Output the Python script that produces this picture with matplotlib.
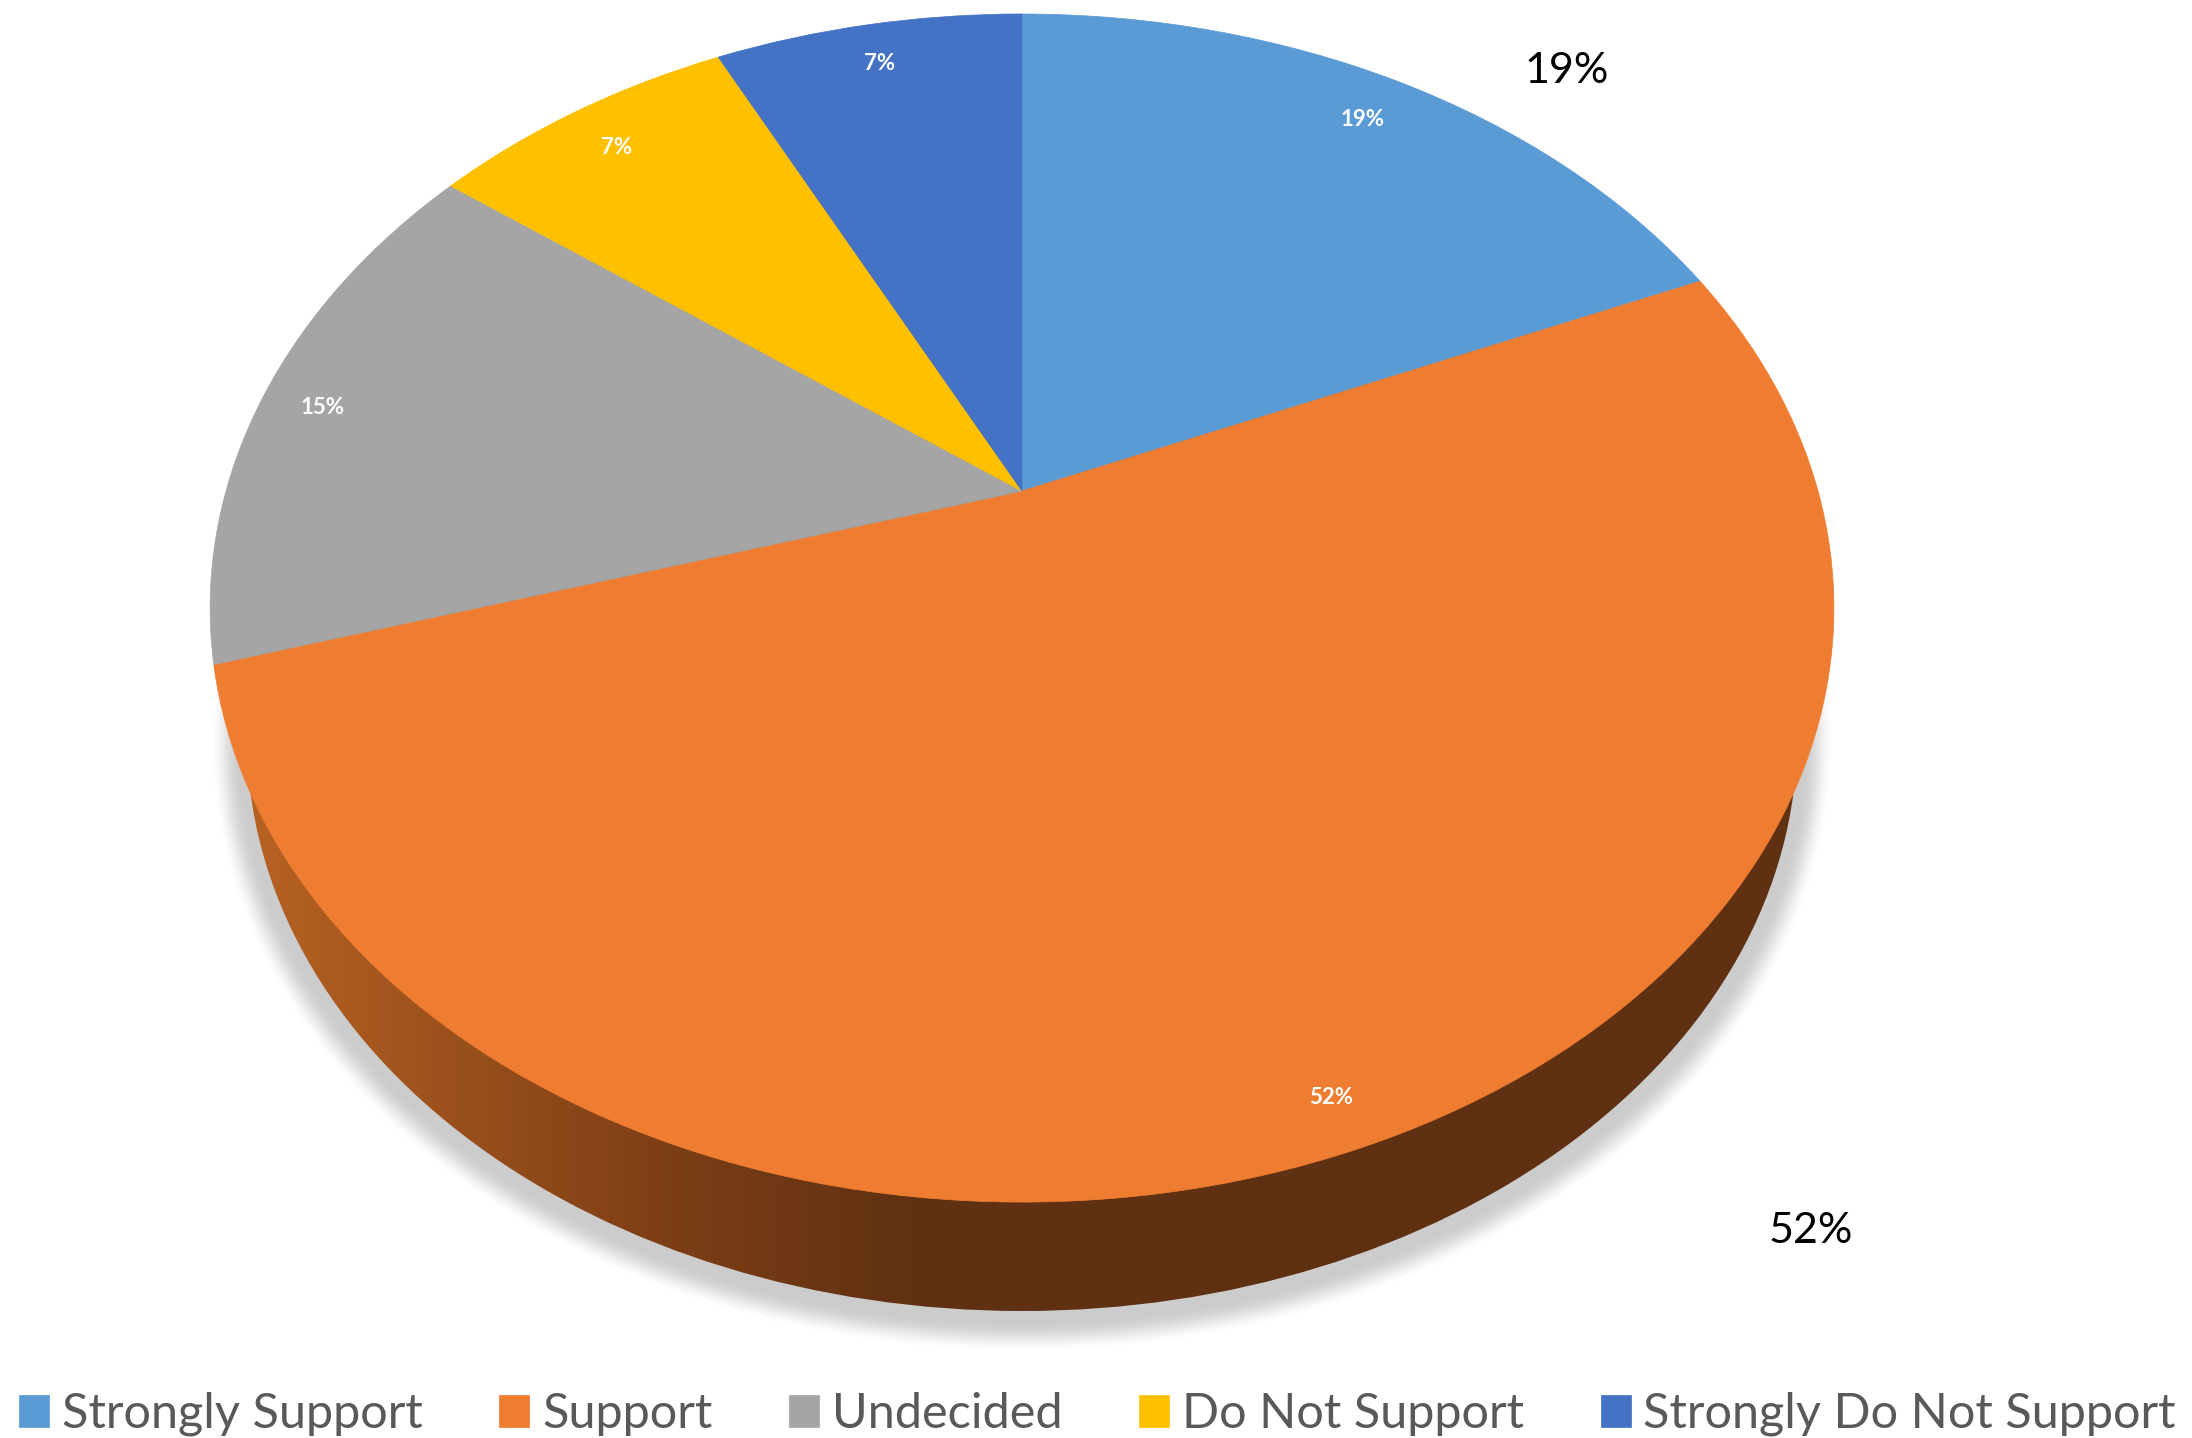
import numpy as np
import matplotlib
matplotlib.use("Agg")
import matplotlib.pyplot as plt
from matplotlib.colors import LinearSegmentedColormap
from matplotlib.patches import Ellipse
from matplotlib.transforms import Transform

# data
categories = ["Strongly Support", "Support", "Undecided", "Do Not Support", "Strongly Do Not Support"]
responses = [5, 14, 4, 2, 2]
colors = ["#5B9BD5", "#EF7D31", "#A5A5A5", "#FFC000", "#4472C4"]
outer_labels = ["19%", "52%"]

W, H = 2192, 1438

plt.rcParams["font.family"] = ["Lato", "DejaVu Sans"]


# pie is seen in perspective, so the centre is not the middle of the ellipse
class TiltedPie(Transform):
    input_dims = 2
    output_dims = 2

    def __init__(self, cx, cy, a, b, k):
        super().__init__()
        self.cx, self.cy, self.a, self.b, self.k = cx, cy, a, b, k

    def transform_non_affine(self, values):
        values = np.asarray(values, dtype=float)
        w = 1 + self.k * values[:, 1]
        return np.column_stack([self.cx + self.a * values[:, 0] / w,
                                self.cy - self.b * values[:, 1] / w])


fig = plt.figure(figsize=(W / 100, H / 100), dpi=100)
ax = fig.add_axes([0, 0, 1, 1])

wedges, _ = ax.pie(responses, colors=colors, startangle=90, counterclock=False)
ax.set_aspect("auto")
ax.set_xlim(0, W)
ax.set_ylim(H, 0)
ax.axis("off")

tilt = TiltedPie(1022, 491, 796, 571, 0.197)
for w, c in zip(wedges, colors):
    w.set_transform(tilt + ax.transData)
    w.set_edgecolor(c)
    w.set_linewidth(0.5)
    w.set_zorder(5)

# soft shadow under the pie
side_cx, side_cy, side_a, side_b = 1022, 738, 775, 573
yy, xx = np.mgrid[0:H, 0:W] + 0.5
dx = xx - side_cx
dy = yy - (side_cy + 5)
f = np.sqrt((dx / side_a) ** 2 + (dy / side_b) ** 2)
grad = np.sqrt((dx / side_a ** 2) ** 2 + (dy / side_b ** 2) ** 2) / np.maximum(f, 1e-6)
dist = (f - 1) / np.maximum(grad, 1e-9)
s = np.clip((37 - dist) / 30, 0, 1)
shadow = np.zeros((H, W, 4))
shadow[..., 3] = 0.2 * s * s * (3 - 2 * s)
ax.imshow(shadow, extent=(0, W, H, 0), aspect="auto", zorder=1, interpolation="nearest")

# side of the pie, lighter to the left
side_cmap = LinearSegmentedColormap.from_list(
    "side", [(0, "#B86323"), (0.256, "#7F3F16"), (0.423, "#5F3112"), (1, "#5F3112")])
side_img = ax.imshow(np.linspace(0, 1, 512)[None, :], extent=(240, 1840, 1330, 150),
                     cmap=side_cmap, aspect="auto", zorder=2)
side_clip = Ellipse((side_cx, side_cy), 2 * side_a, 2 * side_b, transform=ax.transData)
side_img.set_clip_path(side_clip)

ax.set_xlim(0, W)
ax.set_ylim(H, 0)

# labels
total = sum(responses)
pcts = [f"{v / total * 100:.0f}%" for v in responses]
inner_pos = [(1363, 119), (1331, 1098), (323, 407), (617, 147), (880, 63)]
for p, (x, y) in zip(pcts, inner_pos):
    ax.text(x, y, p, color="white", fontsize=16, fontweight="bold",
            ha="center", va="center", zorder=6)
ax.text(1567, 71, outer_labels[0], color="black", fontsize=31, ha="center", va="center", zorder=6)
ax.text(1811, 1231, outer_labels[1], color="black", fontsize=31, ha="center", va="center", zorder=6)

ax.legend(wedges, categories, ncol=5, loc="center", bbox_to_anchor=(0.5007, 1 - 1414 / H),
          frameon=False, fontsize=35, labelcolor="#595959", handlelength=0.617,
          handleheight=0.64, handletextpad=0.26, columnspacing=1.58,
          borderpad=0, borderaxespad=0)

fig.savefig("out.png", dpi=100, facecolor="white")
